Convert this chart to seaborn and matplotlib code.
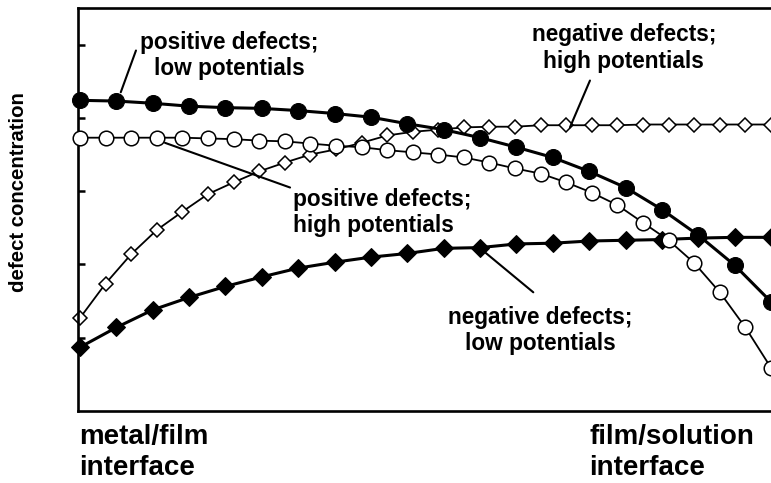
import matplotlib
matplotlib.use("Agg")
import matplotlib.pyplot as plt
import numpy as np
import seaborn as sns

# positions across the film (0 = metal/film, 1 = film/solution)
x_coarse = np.linspace(0, 1, 20)
x_fine = np.linspace(0, 1, 28)

# defect concentration, arbitrary units
pos_low = [4.24, 4.23, 4.20, 4.16, 4.14, 4.13, 4.10, 4.06, 4.01, 3.92,
           3.84, 3.73, 3.60, 3.46, 3.27, 3.05, 2.75, 2.40, 1.99, 1.49]
neg_low = [0.87, 1.14, 1.38, 1.55, 1.70, 1.83, 1.95, 2.03, 2.10, 2.15,
           2.22, 2.23, 2.28, 2.29, 2.32, 2.33, 2.34, 2.36, 2.37, 2.37]
pos_high = [3.73, 3.73, 3.73, 3.73, 3.73, 3.72, 3.71, 3.69, 3.68, 3.65,
            3.62, 3.60, 3.56, 3.53, 3.50, 3.46, 3.39, 3.31, 3.24, 3.12,
            2.98, 2.81, 2.57, 2.33, 2.02, 1.62, 1.14, 0.59]
neg_high = [1.27, 1.74, 2.14, 2.47, 2.72, 2.96, 3.12, 3.27, 3.39, 3.50,
            3.57, 3.66, 3.76, 3.81, 3.84, 3.87, 3.88, 3.88, 3.90, 3.90,
            3.90, 3.90, 3.91, 3.91, 3.91, 3.91, 3.91, 3.91]

sns.set_style('ticks', {'axes.edgecolor': 'black', 'text.color': 'black',
                        'ytick.color': 'black', 'xtick.color': 'black'})
plt.rcParams['font.family'] = ['Liberation Sans', 'DejaVu Sans']

fig = plt.figure(figsize=(7.71, 4.83), dpi=100)
ax = fig.add_axes([78 / 771, 72 / 483, 693 / 771, 403 / 483])

sns.lineplot(x=x_fine, y=neg_high, ax=ax, color='black', lw=1.3, marker='D',
             markersize=7.5, markerfacecolor='white', markeredgecolor='black',
             markeredgewidth=1.1, clip_on=False, zorder=2)
sns.lineplot(x=x_coarse, y=neg_low, ax=ax, color='black', lw=2.2, marker='D',
             markersize=9, markerfacecolor='black', markeredgecolor='black',
             clip_on=False, zorder=3)
sns.lineplot(x=x_fine, y=pos_high, ax=ax, color='black', lw=1.3, marker='o',
             markersize=10.5, markerfacecolor='white', markeredgecolor='black',
             markeredgewidth=1.1, clip_on=False, zorder=4)
sns.lineplot(x=x_coarse, y=pos_low, ax=ax, color='black', lw=2.2, marker='o',
             markersize=11.5, markerfacecolor='black', markeredgecolor='black',
             clip_on=False, zorder=5)

ax.set_xlim(-2 / 691, 1.0)
ax.set_ylim(0, 5.5)
ax.set_xticks([])
ax.set_yticks([1, 2, 3, 4, 5])
ax.set_yticklabels([])
ax.tick_params(axis='y', direction='in', length=5, width=1.8, color='black')
ax.set_xlabel('')
ax.set_ylabel('')
for side in ['left', 'bottom', 'top']:
    ax.spines[side].set_linewidth(1.9)
    ax.spines[side].set_color('black')
ax.spines['right'].set_visible(False)

label_kw = dict(fontsize=16.3, fontweight='bold', linespacing=1.2, zorder=6, color='black')
ax.text(0.216, 4.85, 'positive defects;\nlow potentials', ha='center', va='center', **label_kw)
ax.text(0.787, 4.95, 'negative defects;\nhigh potentials', ha='center', va='center', **label_kw)
ax.text(0.308, 2.71, 'positive defects;\nhigh potentials', ha='left', va='center', **label_kw)
ax.text(0.666, 1.10, 'negative defects;\nlow potentials', ha='center', va='center', **label_kw)

# leader lines from labels to curves
leaders = [((0.081, 4.92), (0.059, 4.35)),
           ((0.738, 4.51), (0.709, 3.87)),
           ((0.123, 3.66), (0.304, 3.05)),
           ((0.583, 2.19), (0.656, 1.62))]
for (x0, y0), (x1, y1) in leaders:
    ax.plot([x0, x1], [y0, y1], color='black', lw=1.5, zorder=6)

fig.text(19 / 771, 1 - 192 / 483, 'defect concentration', rotation=90,
         ha='center', va='center', fontsize=14.7, fontweight='bold', color='black')
fig.text(79 / 771, 1 - 424 / 483, 'metal/film\ninterface', ha='left', va='top',
         fontsize=20, fontweight='bold', linespacing=1.25, color='black')
fig.text(589 / 771, 1 - 424 / 483, 'film/solution\ninterface', ha='left', va='top',
         fontsize=20, fontweight='bold', linespacing=1.25, color='black')

fig.savefig('out.png', dpi=100)
